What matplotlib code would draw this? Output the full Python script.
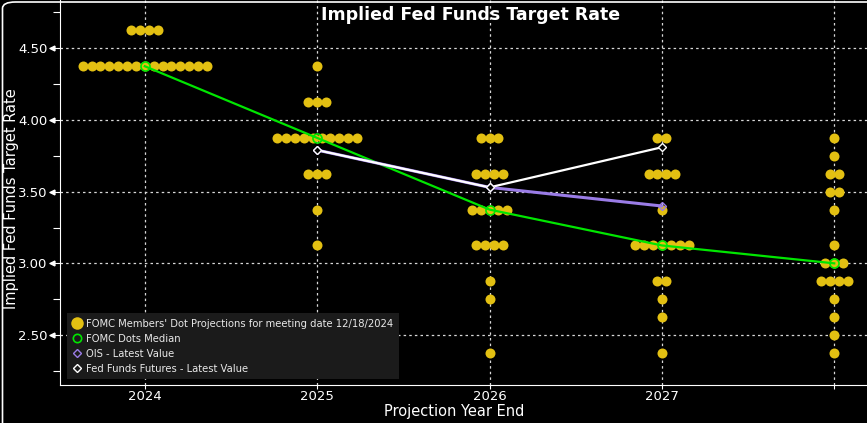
import numpy as np
import matplotlib
matplotlib.use('Agg')
import matplotlib.pyplot as plt
from matplotlib.lines import Line2D
from matplotlib.patches import FancyBboxPatch
import matplotlib.transforms as mtransforms

# Column positions (Longer Run sits at 2028 with no label)
years = [2024, 2025, 2026, 2027, 2028]
year_labels = ['2024', '2025', '2026', '2027', '']

# FOMC dot projections: (rate, number of members) per column
dots_2024 = [(4.625, 4), (4.375, 15)]
dots_2025 = [(4.375, 1), (4.125, 3), (3.875, 10), (3.625, 3), (3.375, 1), (3.125, 1)]
dots_2026 = [(3.875, 3), (3.625, 4), (3.375, 5), (3.125, 4), (2.875, 1), (2.75, 1), (2.375, 1)]
dots_2027 = [(3.875, 2), (3.625, 4), (3.375, 1), (3.125, 7), (2.875, 2), (2.75, 1),
             (2.625, 1), (2.375, 1)]
dots_lr = [(3.875, 1), (3.75, 1), (3.625, 2), (3.5, 2), (3.375, 1), (3.125, 1), (3.0, 3),
           (2.875, 4), (2.75, 1), (2.625, 1), (2.5, 1), (2.375, 1)]
all_dots = [dots_2024, dots_2025, dots_2026, dots_2027, dots_lr]

median_years = [2024, 2025, 2026, 2027, 2028]
median_rates = [4.375, 3.875, 3.375, 3.125, 3.0]

ois_years = [2025, 2026, 2027]
ois_rates = [3.79, 3.53, 3.40]

fut_years = [2025, 2026, 2027]
fut_rates = [3.79, 3.53, 3.81]

DOT = '#e3c012'
GREEN = '#00e600'
PURPLE = '#9a7ce6'
spacing = 0.0515

plt.rc('font', family='DejaVu Sans')

fig = plt.figure(figsize=(8.67, 4.23), dpi=100, facecolor='black')
ax = fig.add_axes([0.069, 0.09, 0.931, 0.91])
ax.set_facecolor('black')

# dots
for yr, col in zip(years, all_dots):
    for rate, n in col:
        xs = yr + (np.arange(n) - (n - 1) / 2) * spacing
        ax.plot(xs, [rate] * n, 'o', color=DOT, ms=7.2, mec='none', zorder=3)

ax.plot(median_years, median_rates, '-', color=GREEN, lw=1.6, zorder=4)
ax.plot(median_years, median_rates, 'o', mfc='none', mec=GREEN, ms=6.5, mew=1.2, zorder=7)
ax.plot(ois_years, ois_rates, '-', color=PURPLE, lw=2.2, zorder=5)
ax.plot(ois_years, ois_rates, 'D', mfc='none', mec=PURPLE, ms=4, mew=1, zorder=6)
ax.plot(fut_years, fut_rates, '-', color='white', lw=1.6, zorder=5.5)
ax.plot(fut_years, fut_rates, 'D', mfc='black', mec='white', ms=4, mew=1, zorder=6.5)

ax.set_xlim(2023.507, 2028.19)
ax.set_ylim(2.152, 4.837)
ax.set_xticks(years)
ax.set_xticklabels(year_labels)
yt = [2.5, 3.0, 3.5, 4.0, 4.5]
ax.set_yticks(yt)
ax.set_yticklabels(['%.2f' % v for v in yt])
ax.set_yticks([2.25, 2.75, 3.25, 3.75, 4.25, 4.75], minor=True)

ax.grid(True, which='major', color='#d8d8d8', ls=(0, (2, 2.5)), lw=0.9)
for s in ['top', 'right']:
    ax.spines[s].set_visible(False)
ax.spines['left'].set_color('white')
ax.spines['bottom'].set_color('white')
ax.tick_params(axis='both', colors='white', labelsize=9.5)
ax.tick_params(axis='y', which='major', length=8, width=0.8, pad=1)
ax.tick_params(axis='y', which='minor', length=5, width=0.8, color='white')
ax.tick_params(axis='x', length=3, pad=0.5)

# little arrow heads on y major ticks
trans = mtransforms.offset_copy(ax.get_yaxis_transform(), fig=fig, x=-5.5, y=0, units='points')
ax.plot([0] * len(yt), yt, marker='<', ls='none', color='white', ms=3.5, transform=trans,
        clip_on=False, zorder=10)

ax.set_xlabel('Projection Year End', color='white', fontsize=10.5)
ax.xaxis.set_label_coords(0.489, -0.07)
ax.xaxis.label.set_va('center')
ax.set_ylabel('Implied Fed Funds Target Rate', color='white', fontsize=10.5)
ax.yaxis.set_label_coords(-0.0595, 0.483)
ax.yaxis.label.set_va('center')
ax.text(0.5085, 0.985, 'Implied Fed Funds Target Rate', transform=ax.transAxes,
        ha='center', va='top', color='white', fontsize=12.5, fontweight='bold')

handles = [
    Line2D([], [], ls='none', marker='o', color=DOT, ms=9, mec='none'),
    Line2D([], [], ls='none', marker='o', mfc='none', mec=GREEN, ms=6, mew=1.2),
    Line2D([], [], ls='none', marker='D', mfc='none', mec=PURPLE, ms=4, mew=1),
    Line2D([], [], ls='none', marker='D', mfc='none', mec='white', ms=4, mew=1),
]
labels = ["FOMC Members' Dot Projections for meeting date 12/18/2024",
          'FOMC Dots Median', 'OIS - Latest Value', 'Fed Funds Futures - Latest Value']
leg = ax.legend(handles, labels, loc='lower left', bbox_to_anchor=(0.006, 0.01),
                fontsize=7.2, frameon=True, facecolor='#1b1b1b', edgecolor='none',
                framealpha=1, labelcolor='#e8e8e8', handlelength=1.0, handletextpad=0.4,
                labelspacing=0.5, borderpad=0.55, borderaxespad=0.2)
leg.get_frame().set_boxstyle('square', pad=0)
leg.set_zorder(20)

# rounded panel border at the left edge
fig.patches.append(FancyBboxPatch((2.5 / 867, -0.2), 1.2, 1.2 - 2 / 423,
                                  boxstyle='round,pad=0,rounding_size=0.015',
                                  transform=fig.transFigure, fc='none', ec='white', lw=1.2))

fig.savefig('out.png', dpi=100, facecolor='black')
